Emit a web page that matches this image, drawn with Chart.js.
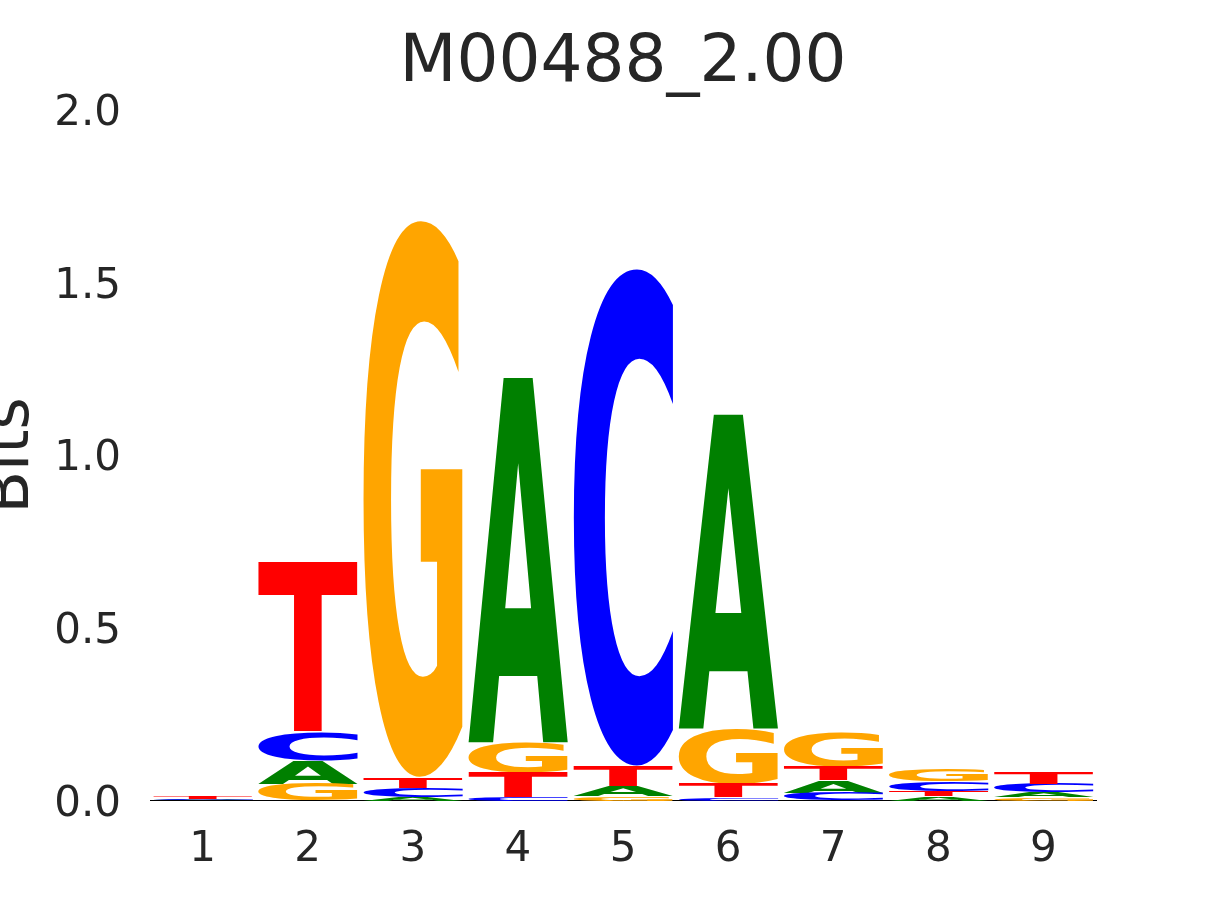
<!DOCTYPE html>
<html>
<head>
<meta charset="utf-8">
<script src="https://cdn.jsdelivr.net/npm/chart.js@4.4.1/dist/chart.umd.min.js"></script>
<style>
  html, body { margin: 0; padding: 0; background: #fff; }
  #wrap { width: 1215px; height: 900px; }
</style>
</head>
<body>
<div id="wrap"><canvas id="logo"></canvas></div>
<script>
// information content (bits) per letter at each motif position
const positions = ['1', '2', '3', '4', '5', '6', '7', '8', '9'];
const bitsA = [0.003, 0.067, 0.009, 1.057, 0.030, 0.910, 0.035, 0.012, 0.014];
const bitsC = [0.002, 0.081, 0.027, 0.010, 1.444, 0.009, 0.023, 0.029, 0.026];
const bitsG = [0.001, 0.049, 1.617, 0.087, 0.012, 0.160, 0.096, 0.035, 0.009];
const bitsT = [0.006, 0.492, 0.031, 0.072, 0.058, 0.040, 0.041, 0.015, 0.032];
const yTicks = [0, 0.5, 1.0, 1.5, 2.0];

const letters = ['A', 'C', 'G', 'T'];
const letterBits = { A: bitsA, C: bitsC, G: bitsG, T: bitsT };
const letterColors = { A: '#008000', C: '#0000ff', G: '#ffa500', T: '#ff0000' };
const textColor = '#262626';
const fontFamily = '"DejaVu Sans", sans-serif';

// smallest letter at the bottom, largest on top
const ranges = {};
letters.forEach(l => ranges[l] = []);
positions.forEach((p, i) => {
    const order = letters.slice().sort((a, b) => letterBits[a][i] - letterBits[b][i]);
    let floor = 0;
    order.forEach(l => {
        ranges[l][i] = [floor, floor + letterBits[l][i]];
        floor += letterBits[l][i];
    });
});

// stretch each letter glyph into its bar rectangle
const glyphMetrics = {};
function metricsFor(ctx, letter) {
    if (!glyphMetrics[letter]) {
        ctx.save();
        ctx.font = 'bold 200px ' + fontFamily;
        const m = ctx.measureText(letter);
        ctx.restore();
        glyphMetrics[letter] = {
            left: m.actualBoundingBoxLeft,
            w: m.actualBoundingBoxLeft + m.actualBoundingBoxRight,
            asc: m.actualBoundingBoxAscent,
            h: m.actualBoundingBoxAscent + m.actualBoundingBoxDescent
        };
    }
    return glyphMetrics[letter];
}

const glyphPlugin = {
    id: 'glyphs',
    beforeDatasetsDraw(chart) {
        const ctx = chart.ctx;
        chart.data.datasets.forEach((ds, di) => {
            const meta = chart.getDatasetMeta(di);
            meta.data.forEach(bar => {
                const { x, y, base, width } = bar.getProps(['x', 'y', 'base', 'width'], true);
                const top = Math.min(y, base);
                const h = Math.abs(base - y);
                if (h < 0.3) return;
                const g = metricsFor(ctx, ds.label);
                ctx.save();
                ctx.translate(x - width / 2, top);
                ctx.scale(width / g.w, h / g.h);
                ctx.font = 'bold 200px ' + fontFamily;
                ctx.textAlign = 'left';
                ctx.textBaseline = 'alphabetic';
                ctx.fillStyle = ds.backgroundColor;
                ctx.fillText(ds.label, g.left, g.asc);
                ctx.restore();
            });
        });
        return false;
    }
};

new Chart(document.getElementById('logo'), {
    type: 'bar',
    data: {
        labels: positions,
        datasets: letters.map(l => ({
            label: l,
            data: ranges[l],
            backgroundColor: letterColors[l],
            grouped: false,
            categoryPercentage: 1.0,
            barPercentage: 0.95
        }))
    },
    options: {
        responsive: true,
        maintainAspectRatio: false,
        animation: false,
        layout: { padding: { left: 0, right: 119, top: 0, bottom: 1 } },
        plugins: {
            legend: { display: false },
            tooltip: { enabled: false },
            title: {
                display: true,
                text: 'M00488_2.00',
                fullSize: false,
                color: textColor,
                font: { family: fontFamily, size: 66, weight: 'normal' },
                padding: { top: 24, bottom: 7 }
            }
        },
        scales: {
            x: {
                grid: { display: false, drawTicks: false },
                border: { display: true, color: '#000000', width: 1 },
                ticks: {
                    color: textColor,
                    padding: 24,
                    font: { family: fontFamily, size: 42 }
                }
            },
            y: {
                min: 0,
                max: 2,
                afterFit(scale) { scale.width = 150; },
                afterBuildTicks(scale) { scale.ticks = yTicks.map(v => ({ value: v })); },
                grid: { display: false, drawTicks: false },
                border: { display: false },
                ticks: {
                    color: textColor,
                    padding: 29,
                    labelOffset: 4,
                    font: { family: fontFamily, size: 42 },
                    callback: v => v.toFixed(1)
                },
                title: {
                    display: true,
                    text: 'Bits',
                    color: textColor,
                    padding: { top: 3, bottom: 0 },
                    font: { family: fontFamily, size: 62, lineHeight: 0.3 }
                }
            }
        }
    },
    plugins: [glyphPlugin]
});
</script>
</body>
</html>
